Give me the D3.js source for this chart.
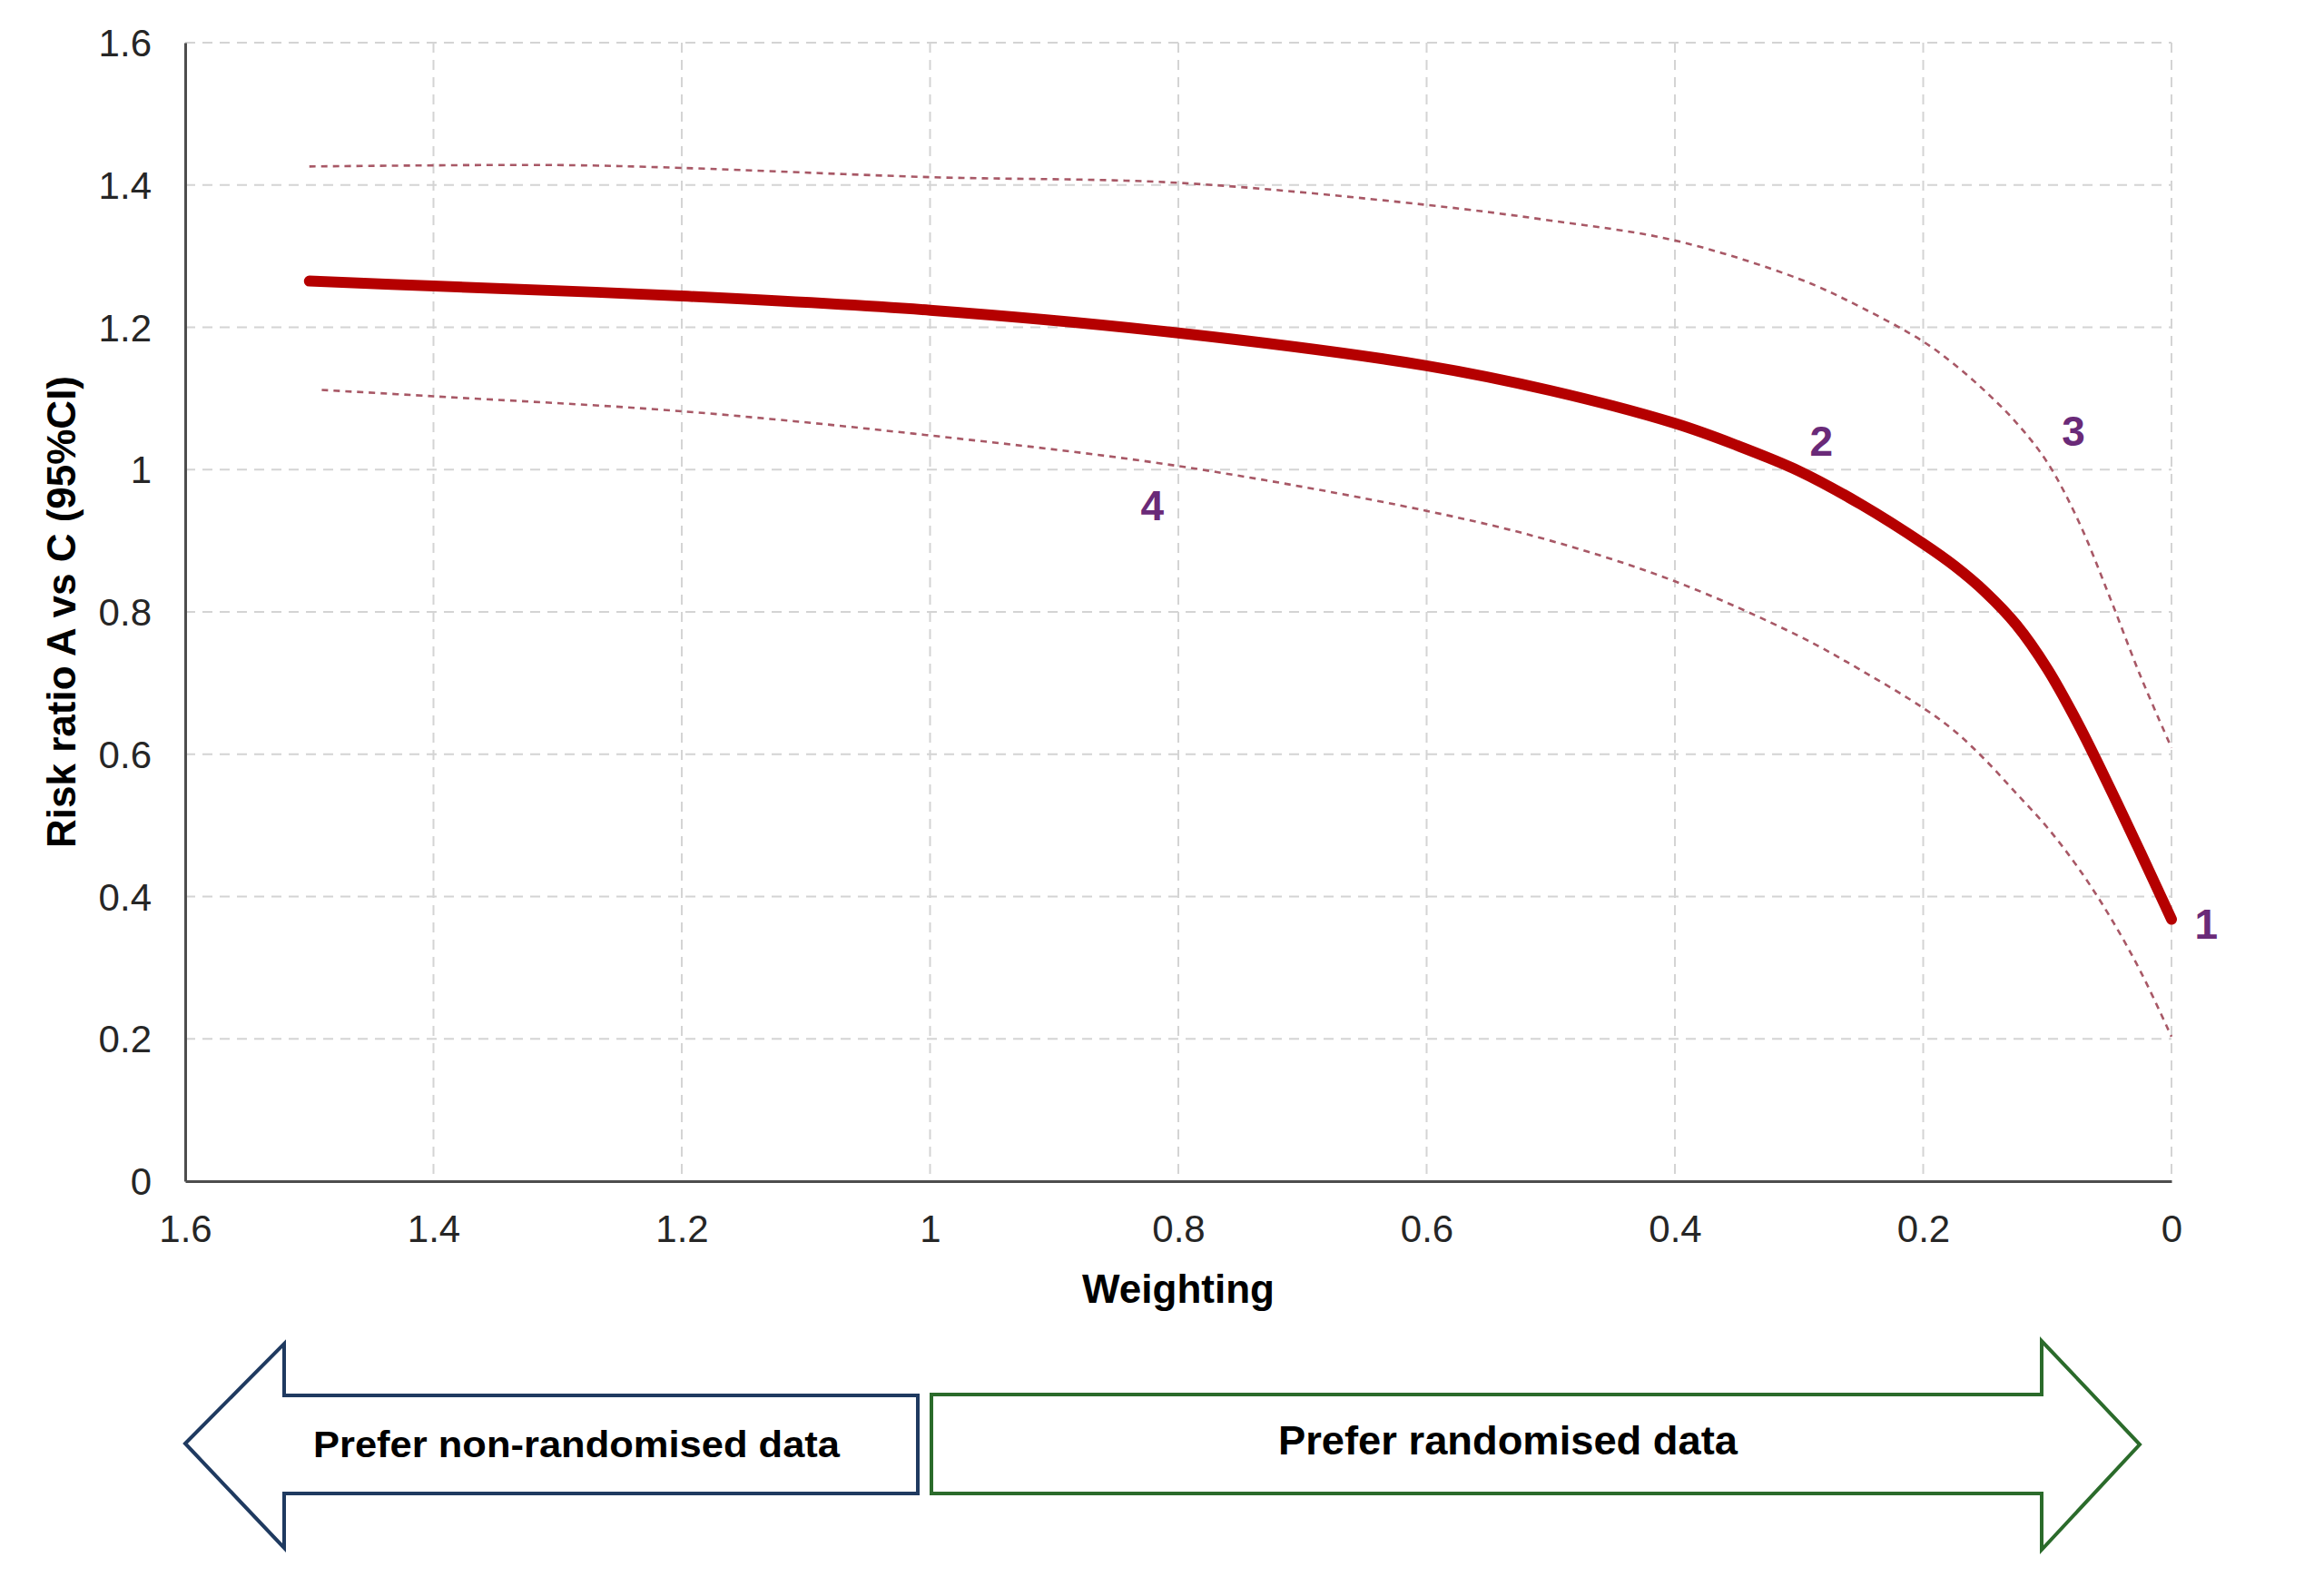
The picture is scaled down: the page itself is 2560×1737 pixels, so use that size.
<!DOCTYPE html>
<html>
<head>
<meta charset="utf-8">
<script src="https://cdn.jsdelivr.net/npm/d3@7"></script>
<style>
  body { margin: 0; background: #fff; }
  svg { display: block; font-family: "Liberation Sans", Arial, sans-serif; }
  .grid line { stroke: #d4d4d4; stroke-width: 2; stroke-dasharray: 11,8; }
  .tick-label { font-size: 42px; fill: #262626; }
</style>
</head>
<body>
<script>
// weighting values (x) and risk ratios
var weightMain = [1.5, 1.4, 1.2, 1.0, 0.8, 0.6, 0.5, 0.4, 0.35, 0.3, 0.25, 0.2, 0.175, 0.15, 0.125, 0.1, 0.075, 0.05, 0.025, 0];
var riskMain   = [1.265, 1.258, 1.244, 1.224, 1.192, 1.146, 1.111, 1.065, 1.034, 0.998, 0.951, 0.896, 0.865, 0.828, 0.782, 0.720, 0.642, 0.554, 0.462, 0.368];

var weightUpper = [1.5, 1.3, 1.2, 1.0, 0.8, 0.6, 0.5, 0.4, 0.3, 0.25, 0.2, 0.175, 0.15, 0.125, 0.1, 0.075, 0.05, 0.025, 0];
var riskUpper   = [1.426, 1.428, 1.424, 1.411, 1.403, 1.372, 1.350, 1.322, 1.268, 1.228, 1.180, 1.148, 1.110, 1.066, 1.010, 0.928, 0.822, 0.710, 0.609];

var weightLower = [1.49, 1.4, 1.2, 1.0, 0.8, 0.6, 0.5, 0.4, 0.3, 0.25, 0.2, 0.175, 0.15, 0.125, 0.1, 0.075, 0.05, 0.025, 0];
var riskLower   = [1.112, 1.103, 1.082, 1.048, 1.005, 0.942, 0.900, 0.843, 0.766, 0.718, 0.665, 0.633, 0.592, 0.545, 0.497, 0.440, 0.373, 0.295, 0.203];

var xTicks = [1.6, 1.4, 1.2, 1, 0.8, 0.6, 0.4, 0.2, 0];
var yTicks = [0, 0.2, 0.4, 0.6, 0.8, 1, 1.2, 1.4, 1.6];

// numbered markers on the curves
var markerText = ["1", "2", "3", "4"];
var markerW    = [-0.028, 0.282, 0.079, 0.821];
var markerR    = [0.362, 1.041, 1.054, 0.95];

var arrowLabels = ["Prefer non-randomised data", "Prefer randomised data"];

var W = 2560, H = 1737;
var margin = {top: 47, right: 168, bottom: 436, left: 204},
    width = W - margin.left - margin.right,
    height = H - margin.top - margin.bottom;

var svg = d3.select("body").append("svg")
    .attr("width", W)
    .attr("height", H);

var g = svg.append("g")
    .attr("transform", "translate(" + margin.left + "," + margin.top + ")");

var x = d3.scaleLinear().domain([1.6, 0]).range([0, width]);
var y = d3.scaleLinear().domain([0, 1.6]).range([height, 0]);
var fmt = d3.format("~g");

// dashed grid
g.append("g").attr("class", "grid")
  .selectAll("line").data(yTicks.filter(function(d){ return d > 0; }))
  .enter().append("line")
  .attr("x1", 0).attr("x2", width)
  .attr("y1", function(d){ return y(d); }).attr("y2", function(d){ return y(d); });

g.append("g").attr("class", "grid")
  .selectAll("line").data(xTicks.filter(function(d){ return d < 1.6; }))
  .enter().append("line")
  .attr("y1", 0).attr("y2", height)
  .attr("x1", function(d){ return x(d); }).attr("x2", function(d){ return x(d); });

// axes
var xAxis = g.append("g")
  .attr("transform", "translate(0," + height + ")")
  .call(d3.axisBottom(x).tickValues(xTicks).tickFormat(fmt).tickSize(0).tickPadding(0));
var yAxis = g.append("g")
  .call(d3.axisLeft(y).tickValues(yTicks).tickFormat(fmt).tickSize(0).tickPadding(0));

[xAxis, yAxis].forEach(function(a){
  a.select(".domain").attr("stroke", "#4d4d4d").attr("stroke-width", 3);
  a.selectAll(".tick text").attr("class", "tick-label")
    .attr("font-family", null).attr("font-size", null);
});
xAxis.selectAll(".tick text").attr("y", 67).attr("dy", null);
yAxis.selectAll(".tick text").attr("x", -37).attr("dy", "0.35em");

// axis titles
g.append("text")
  .attr("x", width / 2).attr("y", height + 134)
  .attr("text-anchor", "middle")
  .style("font-size", "44px").style("font-weight", "bold")
  .text("Weighting");

g.append("text")
  .attr("transform", "translate(" + (83 - margin.left) + "," + (674 - margin.top) + ") rotate(-90)")
  .attr("text-anchor", "middle")
  .style("font-size", "44px").style("font-weight", "bold")
  .text("Risk ratio A vs C (95%CI)");

// curves
var line = d3.line()
  .x(function(d){ return x(d[0]); })
  .y(function(d){ return y(d[1]); })
  .curve(d3.curveCatmullRom.alpha(0.5));

function pairs(ws, rs) {
  return ws.map(function(w, i){ return [w, rs[i]]; });
}

g.append("path").datum(pairs(weightUpper, riskUpper))
  .attr("d", line).attr("fill", "none")
  .attr("stroke", "#a85866").attr("stroke-width", 2.6)
  .attr("stroke-dasharray", "7,6");

g.append("path").datum(pairs(weightLower, riskLower))
  .attr("d", line).attr("fill", "none")
  .attr("stroke", "#a85866").attr("stroke-width", 2.6)
  .attr("stroke-dasharray", "7,6");

g.append("path").datum(pairs(weightMain, riskMain))
  .attr("d", line).attr("fill", "none")
  .attr("stroke", "#b50000").attr("stroke-width", 12)
  .attr("stroke-linecap", "round");

g.selectAll(".marker").data(markerText)
  .enter().append("text").attr("class", "marker")
  .attr("x", function(d, i){ return x(markerW[i]); })
  .attr("y", function(d, i){ return y(markerR[i]); })
  .attr("dy", "0.36em")
  .attr("text-anchor", "middle")
  .style("font-size", "46px").style("font-weight", "bold")
  .style("fill", "#6a2a78")
  .text(function(d){ return d; });

// direction arrows under the chart
var leftArrow = [[204,1590],[313,1480],[313,1537],[1011,1537],[1011,1645],[313,1645],[313,1705]];
var rightArrow = [[1026,1536],[2249,1536],[2249,1477],[2357,1591],[2249,1707],[2249,1645],[1026,1645]];

svg.append("polygon")
  .attr("points", leftArrow.map(function(p){ return p.join(","); }).join(" "))
  .attr("fill", "#fff").attr("stroke", "#1f3a60").attr("stroke-width", 4);
svg.append("polygon")
  .attr("points", rightArrow.map(function(p){ return p.join(","); }).join(" "))
  .attr("fill", "#fff").attr("stroke", "#2b6b2b").attr("stroke-width", 4);

svg.append("text")
  .attr("x", 635).attr("y", 1605)
  .attr("text-anchor", "middle")
  .attr("textLength", 580).attr("lengthAdjust", "spacingAndGlyphs")
  .style("font-size", "40px").style("font-weight", "bold")
  .text(arrowLabels[0]);

svg.append("text")
  .attr("x", 1661).attr("y", 1602)
  .attr("text-anchor", "middle")
  .attr("textLength", 506).attr("lengthAdjust", "spacingAndGlyphs")
  .style("font-size", "44px").style("font-weight", "bold")
  .text(arrowLabels[1]);
</script>
</body>
</html>
